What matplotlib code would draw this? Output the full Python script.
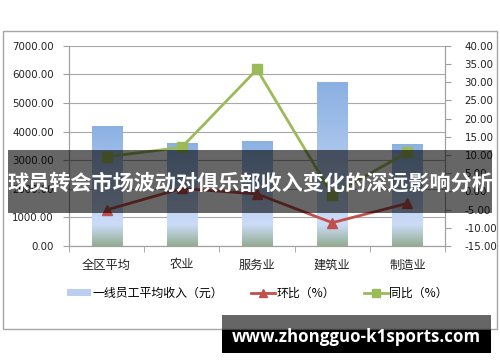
import numpy as np
import matplotlib
matplotlib.use("Agg")
import matplotlib.pyplot as plt
from matplotlib.patches import Rectangle
from matplotlib.colors import to_rgb
from matplotlib.ticker import FormatStrFormatter, MultipleLocator, FixedLocator

plt.rcParams['font.family'] = ['Noto Sans CJK SC', 'DejaVu Sans']

categories = ['全区平均', '农业', '服务业', '建筑业', '制造业']
income = [4200, 3590, 3680, 5730, 3570]
huanbi = [-5.1, 0.8, -0.7, -8.6, -3.3]
tongbi = [9.5, 12.1, 33.5, -0.9, 10.7]
legend_labels = ['一线员工平均收入（元）', '环比（%）', '同比（%）']
title_text = '球员转会市场波动对俱乐部收入变化的深远影响分析'
site_text = 'www.zhongguo-k1sports.com'

W, H = 500, 362
fig = plt.figure(figsize=(W / 100, H / 100), dpi=100)

# outer chart border
fig.add_artist(Rectangle((3 / W, 1 - 329 / H), 494 / W, 298 / H, transform=fig.transFigure,
                         fill=False, edgecolor='#A6A6A6', lw=1.0))

ax = fig.add_axes([69 / W, 1 - 246 / H, 376 / W, 200.3 / H])
ax2 = ax.twinx()

x = np.arange(len(categories))
bars = ax.bar(x, income, width=0.4, color='none', edgecolor='none', zorder=2)

top_c = np.array(to_rgb('#8AB0E2'))
light_c = np.array(to_rgb('#CCDCF8'))
green_c = np.array(to_rgb('#93AE93'))
for b in bars:
    x0, y0 = b.get_x(), b.get_y()
    w, h = b.get_width(), b.get_height()
    ys = np.linspace(y0, y0 + h, 200)
    cols = np.zeros((200, 1, 3))
    for i, yv in enumerate(ys):
        if yv < 750:
            t = yv / 750
            c = green_c * (1 - t) + light_c * t
        else:
            t = (yv - 750) / (h - 750)
            c = light_c * (1 - t) + top_c * t
        cols[i, 0] = c
    im = ax.imshow(cols, extent=[x0, x0 + w, y0, y0 + h], origin='lower',
                   aspect='auto', zorder=2, interpolation='bilinear')
    im.set_clip_path(b)

ax.set_xlim(-0.5, len(categories) - 0.5)
ax.set_ylim(0, 7000)
ax.yaxis.set_major_locator(MultipleLocator(1000))
ax.yaxis.set_major_formatter(FormatStrFormatter('%.2f'))
ax.set_xticks(x)
ax.set_xticklabels(categories, fontsize=8.8, color='#222222')
ax.xaxis.set_minor_locator(FixedLocator(np.arange(-0.5, len(categories), 1.0)))
ax.tick_params(axis='x', which='major', length=0, pad=9)
ax.tick_params(axis='x', which='minor', length=4, color='#A0A0A0', direction='out')
ax.tick_params(axis='y', length=4, color='#A0A0A0', labelsize=7.4, labelcolor='#222222', pad=7)
for lab in ax.get_yticklabels():
    lab.set_family('DejaVu Sans')
ax.grid(axis='y', color='#A8A8A8', lw=0.8, zorder=0)
ax.set_axisbelow(True)
for s in ['top']:
    ax.spines[s].set_visible(False)
    ax2.spines[s].set_visible(False)
for s in ['left', 'bottom', 'right']:
    ax.spines[s].set_color('#A0A0A0')
    ax2.spines[s].set_color('#A0A0A0')
ax.set_facecolor('none')

l1, = ax2.plot(x, huanbi, color='#C0504D', lw=2, marker='^', ms=7, zorder=3)
l2, = ax2.plot(x, tongbi, color='#9BBB59', lw=2, marker='s', ms=7, zorder=3)
ax2.set_ylim(-15, 40)
ax2.yaxis.set_major_locator(MultipleLocator(5))
ax2.yaxis.set_major_formatter(FormatStrFormatter('%.2f'))
ax2.tick_params(axis='y', length=4, color='#A0A0A0', labelsize=7.4, labelcolor='#222222', pad=10)
for lab in ax2.get_yticklabels():
    lab.set_family('DejaVu Sans')

# legend
bar_handle = Rectangle((0, 0), 1, 1, facecolor='#B9CEF0', edgecolor='none')
fig.legend([bar_handle, l1, l2], legend_labels, loc='center left', bbox_to_anchor=(67 / W, 1 - 293 / H),
           ncol=3, frameon=False, fontsize=8.6, handlelength=2.0, handleheight=0.5,
           handletextpad=0.15, columnspacing=2.35, markerscale=0.8, borderpad=0,
           borderaxespad=0)

# title banner
fig.add_artist(Rectangle((8 / W, 1 - 213 / H), 484 / W, 63 / H, transform=fig.transFigure,
                         facecolor='black', alpha=0.6, edgecolor='none', zorder=10))
fig.text(250 / W, 1 - 183 / H, title_text, ha='center', va='center', color='white',
         fontsize=15.2, fontweight='bold', zorder=11)

# site banner
fig.add_artist(Rectangle((222 / W, 1 - 330 / H), 269 / W, 15 / H, transform=fig.transFigure,
                         facecolor='black', alpha=0.6, edgecolor='none', zorder=10))
fig.add_artist(Rectangle((222 / W, 1 - 353 / H), 269 / W, 23 / H, transform=fig.transFigure,
                         facecolor='black', edgecolor='none', zorder=10))
fig.text(356 / W, 1 - 337 / H, site_text, ha='center', va='center', color='white',
         fontsize=12.2, fontweight='bold', family='Open Sans', zorder=11)

fig.savefig('out.png', dpi=100)
